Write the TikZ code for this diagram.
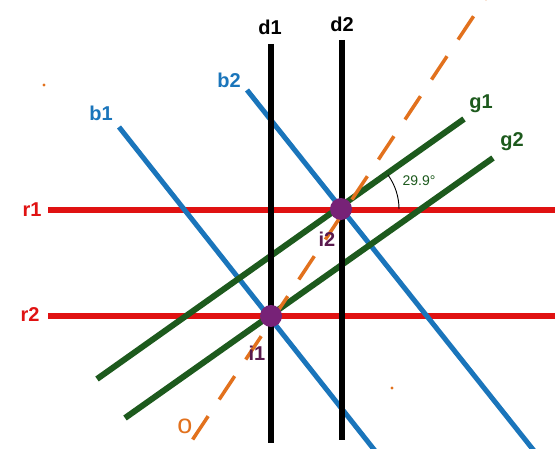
\documentclass[tikz,border=0pt]{standalone}
\usepackage{fontspec}
\setmainfont{Liberation Sans}
\begin{document}
\begin{tikzpicture}[x=1pt,y=-1pt,
  lbl/.style={font=\fontsize{20}{20}\selectfont\bfseries, inner sep=0pt},
  redl/.style={draw=myred, line width=6pt},
  bluel/.style={draw=myblue, line width=5pt},
  greenl/.style={draw=mygreen, line width=6pt},
  blackl/.style={draw=black, line width=6pt},
  orangel/.style={draw=myorange, line width=3.5pt, dash pattern=on 28pt off 20pt, dash phase=45pt},
  ipt/.style={circle, fill=mypurple, minimum size=22pt, inner sep=0pt},
  ilbl/.style={lbl, text=mydarkpurple}]
\definecolor{myred}{HTML}{E01212}
\definecolor{myblue}{HTML}{1A75BB}
\definecolor{mygreen}{HTML}{1D5A1D}
\definecolor{myorange}{HTML}{E2711D}
\definecolor{mypurple}{HTML}{772277}
\definecolor{mydarkpurple}{HTML}{5A1A4E}
\useasboundingbox[fill=white] (0,0) rectangle (560,449);
% line ends
\coordinate (r1a) at (48,210); \coordinate (r1b) at (555,210);
\coordinate (r2a) at (48,316); \coordinate (r2b) at (555,316);
\coordinate (d1a) at (271,44); \coordinate (d1b) at (271,443);
\coordinate (d2a) at (342,40); \coordinate (d2b) at (342,440);
\coordinate (b1a) at (119,127); \coordinate (b1b) at (376,452);
\coordinate (b2a) at (247,90); \coordinate (b2b) at (535,452);
\coordinate (g1a) at (97,379); \coordinate (g1b) at (464,119);
\coordinate (g2a) at (125,418); \coordinate (g2b) at (493,158);
\coordinate (oa) at (191,442); \coordinate (ob) at (487,-4);
% lines
\draw[redl] (r1a) -- (r1b);
\draw[redl] (r2a) -- (r2b);
\draw[bluel] (b1a) -- (b1b);
\draw[bluel] (b2a) -- (b2b);
\draw[greenl] (g1a) -- (g1b);
\draw[greenl] (g2a) -- (g2b);
\draw[blackl] (d1a) -- (d1b);
\draw[blackl] (d2a) -- (d2b);
\draw[orangel] (oa) -- (ob);
% intersection points
\node[ipt] (i1) at (271,316) {};
\node[ipt] (i2) at (341,209) {};
% angle arc
\draw[black, line width=0.9pt] ([xshift=58pt]i2.center) arc[start angle=0, end angle=36, radius=58pt];
\node[text=mygreen, font=\fontsize{14}{14}\selectfont, inner sep=0pt] (ang) at (419,181) {29.9°};
% labels
\node[lbl, text=black] (ld1) at (270,27) {d1};
\node[lbl, text=black] (ld2) at (342,24) {d2};
\node[lbl, text=myred] (lr1) at (32,210) {r1};
\node[lbl, text=myred] (lr2) at (30,315) {r2};
\node[lbl, text=myblue] (lb1) at (101,113) {b1};
\node[lbl, text=myblue] (lb2) at (229,80) {b2};
\node[lbl, text=mygreen] (lg1) at (481,104) {g1};
\node[lbl, text=mygreen] (lg2) at (512,142) {g2};
\node[ilbl] (li1) at (257,353) {i1};
\node[ilbl] (li2) at (327,239) {i2};
\node[lbl, text=myorange, font=\fontsize{27}{27}\selectfont] (lo) at (185,426) {o};
% small dots
\fill[myorange] (44,85) circle (1.6pt);
\fill[myorange] (392,388) circle (1.6pt);
\end{tikzpicture}
\end{document}
